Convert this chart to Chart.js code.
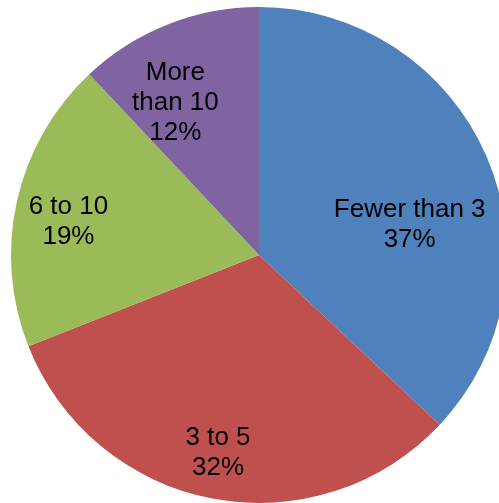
<!DOCTYPE html>
<html>
<head>
<meta charset="utf-8">
<script src="https://cdn.jsdelivr.net/npm/chart.js@4"></script>
<style>
    html, body { margin: 0; padding: 0; background: #fff; overflow: hidden; }
    #wrap { position: absolute; left: 0; top: 7px; width: 518px; height: 496px; }
</style>
</head>
<body>
<div id="wrap"><canvas id="pieChart"></canvas></div>
<script>
// Data
const categories = [['Fewer than 3'], ['3 to 5'], ['6 to 10'], ['More', 'than 10']];
const shares = [37, 32, 19, 12];
const sliceColors = ['#4F81BD', '#C0504D', '#9BBB59', '#8064A2'];

// Label inside each slice: category lines, then the percentage
const sliceLabels = {
    id: 'sliceLabels',
    afterDatasetsDraw(chart, args, opts) {
        const ctx = chart.ctx;
        const meta = chart.getDatasetMeta(0);
        const total = shares.reduce((a, b) => a + b, 0);
        ctx.save();
        ctx.fillStyle = '#000';
        ctx.font = '26px "Liberation Sans", Arial, sans-serif';
        ctx.textAlign = 'center';
        ctx.textBaseline = 'middle';
        meta.data.forEach((arc, i) => {
            const p = arc.getProps(['x', 'y', 'startAngle', 'endAngle', 'outerRadius'], true);
            const spot = opts.spots[i];
            const mid = (p.startAngle + p.endAngle) / 2 + spot.shift * Math.PI / 180;
            const cx = p.x + Math.cos(mid) * p.outerRadius * spot.r;
            const cy = p.y + Math.sin(mid) * p.outerRadius * spot.r;
            const lines = categories[i].concat([Math.round(shares[i] / total * 100) + '%']);
            const top = cy - (lines.length - 1) * opts.lineHeight / 2;
            lines.forEach((t, j) => ctx.fillText(t, cx, top + j * opts.lineHeight));
        });
        ctx.restore();
    }
};

const pieChart = new Chart(document.getElementById('pieChart'), {
    type: 'pie',
    data: {
        labels: categories,
        datasets: [{
            data: shares,
            backgroundColor: sliceColors,
            borderWidth: 0,
            hoverBorderWidth: 0,
            hoverOffset: 0
        }]
    },
    options: {
        responsive: true,
        maintainAspectRatio: false,
        animation: false,
        events: [],
        layout: { padding: 0 },
        plugins: {
            legend: { display: false },
            tooltip: { enabled: false },
            sliceLabels: {
                lineHeight: 30,
                spots: [
                    { r: 0.62, shift: 11.9 },
                    { r: 0.815, shift: 0.9 },
                    { r: 0.78, shift: -2.7 },
                    { r: 0.70, shift: -7.2 }
                ]
            }
        }
    },
    plugins: [sliceLabels]
});
</script>
</body>
</html>
